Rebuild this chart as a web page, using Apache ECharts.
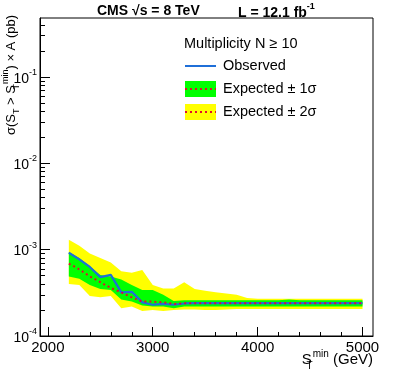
<!DOCTYPE html>
<html>
<head>
<meta charset="utf-8">
<script src="https://cdn.jsdelivr.net/npm/echarts@6/dist/echarts.min.js"></script>
<style>html,body{margin:0;padding:0;background:#fff}#c{width:393px;height:374px}</style>
</head>
<body>
<div id="c"></div>
<script>
// ---- data ----
const stMin = [2200,2300,2400,2500,2600,2700,2800,2900,3000,3100,3200,3300,3400,3500,3600,3700,3800,3900,4000,4100,4200,4300,4400,4500,4600,4700,4800,4900,5000];
const observed = [9.2e-4,7.7e-4,6.3e-4,4.8e-4,5.1e-4,3.2e-4,3.25e-4,2.45e-4,2.3e-4,2.35e-4,2.3e-4,2.38e-4,2.4e-4,2.4e-4,2.4e-4,2.4e-4,2.4e-4,2.4e-4,2.4e-4,2.4e-4,2.4e-4,2.4e-4,2.4e-4,2.4e-4,2.4e-4,2.4e-4,2.4e-4,2.4e-4,2.4e-4];
const expected = [6.9e-4,5.9e-4,4.9e-4,4.2e-4,3.6e-4,3.2e-4,2.8e-4,2.5e-4,2.5e-4,2.45e-4,2.35e-4,2.4e-4,2.4e-4,2.4e-4,2.4e-4,2.4e-4,2.4e-4,2.4e-4,2.4e-4,2.4e-4,2.4e-4,2.4e-4,2.4e-4,2.4e-4,2.4e-4,2.4e-4,2.4e-4,2.4e-4,2.4e-4];
const oneSigmaHi = [9.4e-4,8.0e-4,6.4e-4,5.1e-4,4.9e-4,4.5e-4,3.9e-4,3.4e-4,3.4e-4,3.0e-4,2.55e-4,2.6e-4,2.6e-4,2.6e-4,2.6e-4,2.6e-4,2.6e-4,2.6e-4,2.6e-4,2.6e-4,2.6e-4,2.65e-4,2.6e-4,2.6e-4,2.6e-4,2.6e-4,2.6e-4,2.6e-4,2.6e-4];
const oneSigmaLo = [4.9e-4,4.6e-4,3.9e-4,3.5e-4,3.4e-4,2.65e-4,2.5e-4,2.25e-4,2.2e-4,2.2e-4,2.1e-4,2.2e-4,2.2e-4,2.2e-4,2.2e-4,2.2e-4,2.2e-4,2.2e-4,2.2e-4,2.2e-4,2.2e-4,2.2e-4,2.2e-4,2.2e-4,2.2e-4,2.2e-4,2.2e-4,2.2e-4,2.2e-4];
const twoSigmaHi = [1.3e-3,1.11e-3,9.0e-4,8.0e-4,7.1e-4,5.6e-4,5.4e-4,5.8e-4,3.9e-4,3.55e-4,3.55e-4,4.2e-4,3.5e-4,3.35e-4,3.2e-4,3.1e-4,3.0e-4,2.75e-4,2.7e-4,2.7e-4,2.7e-4,2.7e-4,2.7e-4,2.7e-4,2.7e-4,2.7e-4,2.7e-4,2.7e-4,2.7e-4];
const twoSigmaLo = [4.0e-4,3.9e-4,2.9e-4,2.8e-4,2.9e-4,2.1e-4,2.2e-4,1.95e-4,2.0e-4,1.95e-4,2.0e-4,2.02e-4,2.03e-4,2.0e-4,2.0e-4,2.02e-4,2.05e-4,2.05e-4,2.05e-4,2.05e-4,2.05e-4,2.05e-4,2.05e-4,2.05e-4,2.05e-4,2.05e-4,2.05e-4,2.05e-4,2.05e-4];
const xMajorTicks = [2000,3000,4000,5000];
const xMinorTicks = [2200,2400,2600,2800,3200,3400,3600,3800,4200,4400,4600,4800];
const yMajorTicks = [1e-4,1e-3,1e-2,1e-1];
const yMinorTicks = [2e-4,3e-4,4e-4,5e-4,6e-4,7e-4,8e-4,9e-4,2e-3,3e-3,4e-3,5e-3,6e-3,7e-3,8e-3,9e-3,2e-2,3e-2,4e-2,5e-2,6e-2,7e-2,8e-2,9e-2,2e-1,3e-1,4e-1];

const FONT = '"Liberation Sans", Arial, Helvetica, sans-serif';
const GREEN = '#00ff00', YELLOW = '#ffff00', BLUE = '#1f6fd8', RED = '#e0102e';

function band(lo, hi, color) {
  return {
    type: 'custom', silent: true, clip: true, z: 1,
    data: stMin.map((x, i) => [x, lo[i], hi[i]]),
    encode: { x: 0, y: [1, 2] },
    renderItem: function (params, api) {
      if (params.dataIndex !== 0) return null;
      const pts = [];
      for (let i = 0; i < stMin.length; i++) pts.push(api.coord([stMin[i], hi[i]]));
      for (let i = stMin.length - 1; i >= 0; i--) pts.push(api.coord([stMin[i], lo[i]]));
      return { type: 'polygon', shape: { points: pts }, style: { fill: color, stroke: null } };
    }
  };
}

const chart = echarts.init(document.getElementById('c'), null, { renderer: 'canvas' });
const xBase = { type: 'value', min: 1925, max: 5100, gridIndex: 0 };
const yBase = { type: 'log', min: 1e-4, max: 0.48, logBase: 10, gridIndex: 0 };

chart.setOption({
  animation: false,
  backgroundColor: '#fff',
  grid: { left: 40, right: 20, top: 18, bottom: 38, show: true, borderColor: '#000', borderWidth: 1, backgroundColor: 'transparent' },
  xAxis: [
    Object.assign({}, xBase, {
      position: 'bottom',
      axisLine: { show: true, lineStyle: { color: '#000', width: 1 } },
      axisTick: { show: true, inside: true, length: 9, customValues: xMajorTicks, lineStyle: { color: '#000' } },
      axisLabel: { show: true, customValues: xMajorTicks, margin: 4, color: '#000', fontSize: 15, fontFamily: FONT,
        formatter: function (v) { return String(Math.round(v)); } },
      splitLine: { show: false }
    }),
    Object.assign({}, xBase, {
      position: 'bottom',
      axisLine: { show: false },
      axisTick: { show: true, inside: true, length: 4, customValues: xMinorTicks, lineStyle: { color: '#000' } },
      axisLabel: { show: false },
      splitLine: { show: false }
    })
  ],
  yAxis: [
    Object.assign({}, yBase, {
      position: 'left',
      axisLine: { show: true, lineStyle: { color: '#000', width: 1 } },
      axisTick: { show: true, inside: true, length: 10, customValues: yMajorTicks, lineStyle: { color: '#000' } },
      axisLabel: {
        show: true, customValues: yMajorTicks, margin: 3, color: '#000', fontFamily: FONT,
        formatter: function (v) { return '{b|10}{s|' + Math.round(Math.log10(v)) + '}'; },
        rich: {
          b: { fontSize: 14, fontFamily: FONT, color: '#000', verticalAlign: 'bottom', lineHeight: 18 },
          s: { fontSize: 9, fontFamily: FONT, color: '#000', verticalAlign: 'top', lineHeight: 10 }
        }
      },
      splitLine: { show: false }
    }),
    Object.assign({}, yBase, {
      position: 'left',
      axisLine: { show: false },
      axisTick: { show: true, inside: true, length: 5, customValues: yMinorTicks, lineStyle: { color: '#000' } },
      axisLabel: { show: false },
      splitLine: { show: false }
    })
  ],
  series: [
    band(twoSigmaLo, twoSigmaHi, YELLOW),
    band(oneSigmaLo, oneSigmaHi, GREEN),
    { type: 'line', name: 'Observed', data: stMin.map((x, i) => [x, observed[i]]), symbol: 'none', z: 3,
      lineStyle: { color: BLUE, width: 2.2 } },
    { type: 'line', name: 'Expected', data: stMin.map((x, i) => [x, expected[i]]), symbol: 'none', z: 4,
      lineStyle: { color: RED, width: 2, type: [2, 3] } }
  ],
  graphic: [
    // title
    { type: 'text', left: 97, top: 4, style: { text: 'CMS √s = 8 TeV', fontSize: 14, fontWeight: 'bold', fontFamily: FONT, fill: '#000' } },
    { type: 'text', left: 238, top: 2, style: {
      text: '{a|L = 12.1 fb}{s|-1}', fill: '#000',
      rich: { a: { fontSize: 14, fontWeight: 'bold', fontFamily: FONT, verticalAlign: 'bottom', lineHeight: 18 },
              s: { fontSize: 9, fontWeight: 'bold', fontFamily: FONT, verticalAlign: 'top', lineHeight: 10 } } } },
    // y-axis title (rotated)
    { type: 'text', x: 21, y: 15, rotation: Math.PI / 2, style: {
      text: '{m|σ(S}{sub|T}{m| > S}{sub2|T}{sup|min}{m|) × A (pb)}', align: 'right', verticalAlign: 'bottom', fill: '#000',
      rich: {
        m: { fontSize: 13, fontFamily: FONT, verticalAlign: 'middle', lineHeight: 20 },
        sub: { fontSize: 9, fontFamily: FONT, verticalAlign: 'bottom', lineHeight: 10 },
        sub2: { fontSize: 9, fontFamily: FONT, verticalAlign: 'bottom', lineHeight: 10, width: 1 },
        sup: { fontSize: 9, fontFamily: FONT, verticalAlign: 'top', lineHeight: 10 }
      } } },
    // x-axis title
    { type: 'text', x: 373, y: 371, style: {
      text: '{m|S}{sub|T}{sup|min}{m| (GeV)}', align: 'right', verticalAlign: 'bottom', fill: '#000',
      rich: {
        m: { fontSize: 15, fontFamily: FONT, verticalAlign: 'middle', lineHeight: 22 },
        sub: { fontSize: 10, fontFamily: FONT, verticalAlign: 'bottom', lineHeight: 10, width: 1 },
        sup: { fontSize: 10, fontFamily: FONT, verticalAlign: 'top', lineHeight: 10 }
      } } },
    // legend
    { type: 'text', x: 184, y: 44, style: { text: 'Multiplicity N ≥ 10', fontSize: 14.5, fontFamily: FONT, fill: '#000', verticalAlign: 'middle' } },
    { type: 'line', shape: { x1: 185, y1: 66, x2: 216, y2: 66 }, style: { stroke: BLUE, lineWidth: 2 } },
    { type: 'text', x: 223, y: 66, style: { text: 'Observed', fontSize: 14.5, fontFamily: FONT, fill: '#000', verticalAlign: 'middle' } },
    { type: 'rect', shape: { x: 185, y: 81, width: 31, height: 16 }, style: { fill: GREEN } },
    { type: 'line', shape: { x1: 185, y1: 89, x2: 216, y2: 89 }, style: { stroke: RED, lineWidth: 2, lineDash: [2, 3] } },
    { type: 'text', x: 223, y: 89, style: { text: 'Expected ± 1σ', fontSize: 14.5, fontFamily: FONT, fill: '#000', verticalAlign: 'middle' } },
    { type: 'rect', shape: { x: 185, y: 104, width: 31, height: 16 }, style: { fill: YELLOW } },
    { type: 'line', shape: { x1: 185, y1: 112, x2: 216, y2: 112 }, style: { stroke: RED, lineWidth: 2, lineDash: [2, 3] } },
    { type: 'text', x: 223, y: 112, style: { text: 'Expected ± 2σ', fontSize: 14.5, fontFamily: FONT, fill: '#000', verticalAlign: 'middle' } }
  ]
});
</script>
</body>
</html>
